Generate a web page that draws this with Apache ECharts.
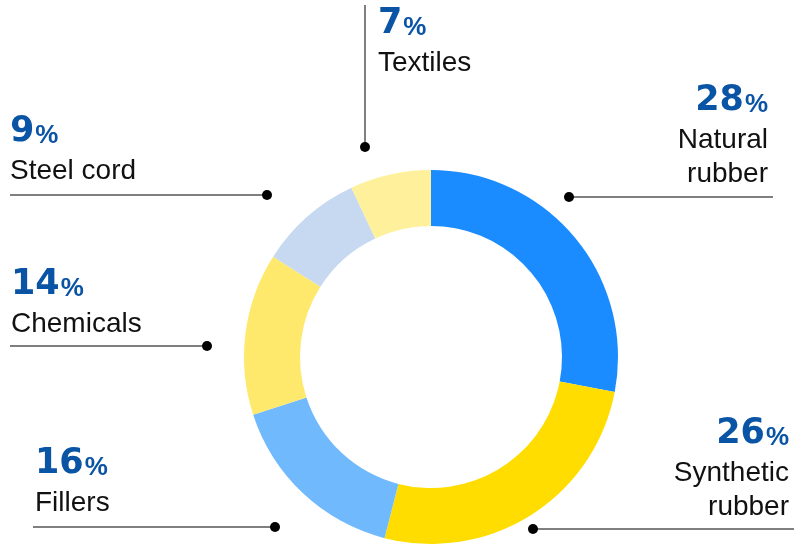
<!DOCTYPE html>
<html>
	<head>
		<meta charset="utf-8">
		<title></title>
		<script type="text/javascript" src="https://cdn.jsdelivr.net/npm/echarts@6/dist/echarts.min.js"></script>
	</head>
	<body style="margin:0">
		<div id="main" style="width: 794px;height:545px;"></div>
	</body>
	<script type="text/javascript">
	        // data
	        var categories = ['Natural rubber', 'Synthetic rubber', 'Fillers', 'Chemicals', 'Steel cord', 'Textiles'];
	        var labelNames = [['Natural', 'rubber'], ['Synthetic', 'rubber'], ['Fillers'], ['Chemicals'], ['Steel cord'], ['Textiles']];
	        var shares = [28, 26, 16, 14, 9, 7];
	        var colors = ['#1a8cff', '#ffdd00', '#71b9fd', '#ffe96c', '#c6d9f1', '#fff09b'];

	        // where each label sits and where its leader line runs (dot -> end)
	        var anchors = [
	            {x: 768, y: 77, align: 'right', dot: [569, 197], end: [773, 197]},
	            {x: 789, y: 410, align: 'right', dot: [533, 529], end: [794, 529]},
	            {x: 35, y: 440, align: 'left', dot: [275, 527], end: [33, 527]},
	            {x: 11, y: 261, align: 'left', dot: [207, 346], end: [10, 346]},
	            {x: 10, y: 108, align: 'left', dot: [267, 195], end: [10, 195]},
	            {x: 378, y: 0, align: 'left', dot: [365, 147], end: [365, 5]}
	        ];

	        var myChart = echarts.init(document.getElementById('main'));

	        var pieData = categories.map(function (c, i) {
	            return {name: c, value: shares[i], itemStyle: {color: colors[i]}};
	        });

	        myChart.setOption({
	            animation: false,
	            series: [{
	                type: 'pie',
	                center: [431, 357],
	                radius: [131, 187],
	                startAngle: 90,
	                avoidLabelOverlap: false,
	                emphasis: {disabled: true},
	                data: pieData,
	                label: {
	                    show: true,
	                    formatter: function (p) {
	                        var lines = labelNames[p.dataIndex].map(function (s) {
	                            return '{name|' + s + '}';
	                        });
	                        return '{num|' + p.value + '}{pct|%}\n' + lines.join('\n');
	                    },
	                    rich: {
	                        num: {fontFamily: 'DejaVu Sans', fontWeight: 'bold', fontSize: 35, color: '#0a54a6', lineHeight: 46, verticalAlign: 'bottom', padding: [0, 0, 5, 0]},
	                        pct: {fontFamily: 'Liberation Sans', fontWeight: 'bold', fontSize: 26, color: '#0a54a6', lineHeight: 46, verticalAlign: 'bottom', padding: [0, 0, 5, 1]},
	                        name: {fontFamily: 'Liberation Sans', fontSize: 28, color: '#111', lineHeight: 34}
	                    }
	                },
	                labelLine: {
	                    show: true,
	                    lineStyle: {color: '#555', width: 1.5}
	                },
	                labelLayout: function (params) {
	                    var a = anchors[params.dataIndex];
	                    return {
	                        x: a.x,
	                        y: a.y,
	                        align: a.align,
	                        verticalAlign: 'top',
	                        labelLinePoints: [a.dot, a.dot, a.end]
	                    };
	                }
	            }],
	            graphic: anchors.map(function (a) {
	                return {type: 'circle', shape: {cx: a.dot[0], cy: a.dot[1], r: 5}, style: {fill: '#000'}, z: 10};
	            })
	        });
	</script>
</html>
